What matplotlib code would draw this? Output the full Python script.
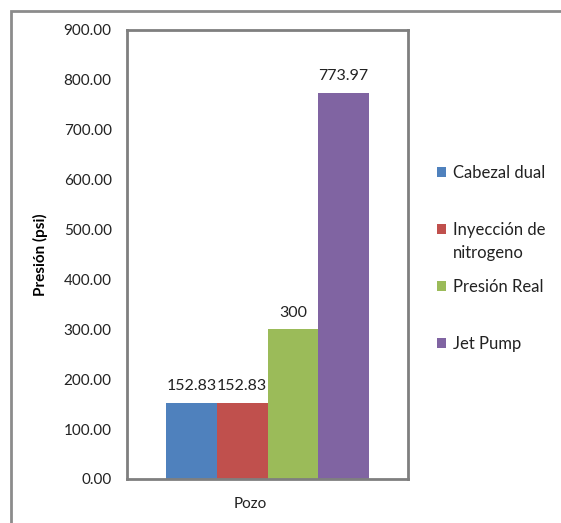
import matplotlib
matplotlib.use('Agg')
import matplotlib.pyplot as plt
from matplotlib.patches import Rectangle
from matplotlib.text import Annotation
from matplotlib.transforms import ScaledTranslation

# pressure per method, single well
categoria = 'Pozo'
metodos = ['Cabezal dual', 'Inyección de', 'Presión Real', 'Jet Pump']
presion = [152.83, 152.83, 300, 773.97]
colores = ['#4F81BD', '#C0504D', '#9BBB59', '#8064A2']
yticks = [0, 100, 200, 300, 400, 500, 600, 700, 800, 900]

plt.rcParams['font.family'] = ['Lato', 'DejaVu Sans']

fig = plt.figure(figsize=(5.61, 5.23), dpi=100)
fig.patch.set_facecolor('white')

# outer chart frame (right and bottom edges run off the canvas)
fig.patches.append(Rectangle((11 / 561, -0.1), 560 / 561, 1 - 11 / 523 + 0.1,
                             transform=fig.transFigure, fill=False,
                             edgecolor='#8c8c8c', linewidth=2, clip_on=False))

ax = fig.add_axes([127 / 561, 44 / 523, 281 / 561, 449 / 523])

width = 0.18
offsets = [(i - 1.5) * width for i in range(len(presion))]
for off, val, col, lab in zip(offsets, presion, colores, metodos):
    ax.bar(off, val, width=width, color=col, label=lab)
    ax.annotate(f'{val:g}', (off, val), xytext=(0, 7), textcoords='offset points',
                ha='center', va='bottom', fontsize=11.5, color='#222222')

ax.set_xlim(-0.5, 0.5)
ax.set_ylim(0, 900)
ax.set_yticks(yticks)
ax.set_yticklabels([f'{t:.2f}' for t in yticks])
ax.set_xticks([0])
ax.set_xticklabels([categoria])
ax.tick_params(axis='both', length=0, labelsize=11, colors='#222222')
ax.tick_params(axis='y', pad=11)
ax.tick_params(axis='x', pad=13)
for lbl in ax.get_xticklabels():
    lbl.set_transform(lbl.get_transform() + ScaledTranslation(-17 / 100, 0, fig.dpi_scale_trans))

for s in ax.spines.values():
    s.set_color('#7f7f7f')
    s.set_linewidth(2)

ax.set_ylabel('Presión (psi)', fontsize=11, fontweight='bold')
ax.yaxis.set_label_coords(-0.28, 0.5)

leg = ax.legend(loc='upper left', bbox_to_anchor=(437 / 561, 1 - 165 / 523),
                bbox_transform=fig.transFigure, frameon=False, fontsize=12,
                handlelength=0.55, handleheight=0.5, handletextpad=0.4,
                labelspacing=2.46, borderpad=0, borderaxespad=0)
for t in leg.get_texts():
    t.set_color('#222222')

# second line of the nitrogen label, hung under the legend entry
fig.add_artist(Annotation('nitrogeno', xy=(0, 0), xycoords=leg.get_texts()[1],
                          xytext=(0, -5), textcoords='offset points',
                          va='top', ha='left', fontsize=12, color='#222222'))

fig.savefig('out.png', dpi=100)
